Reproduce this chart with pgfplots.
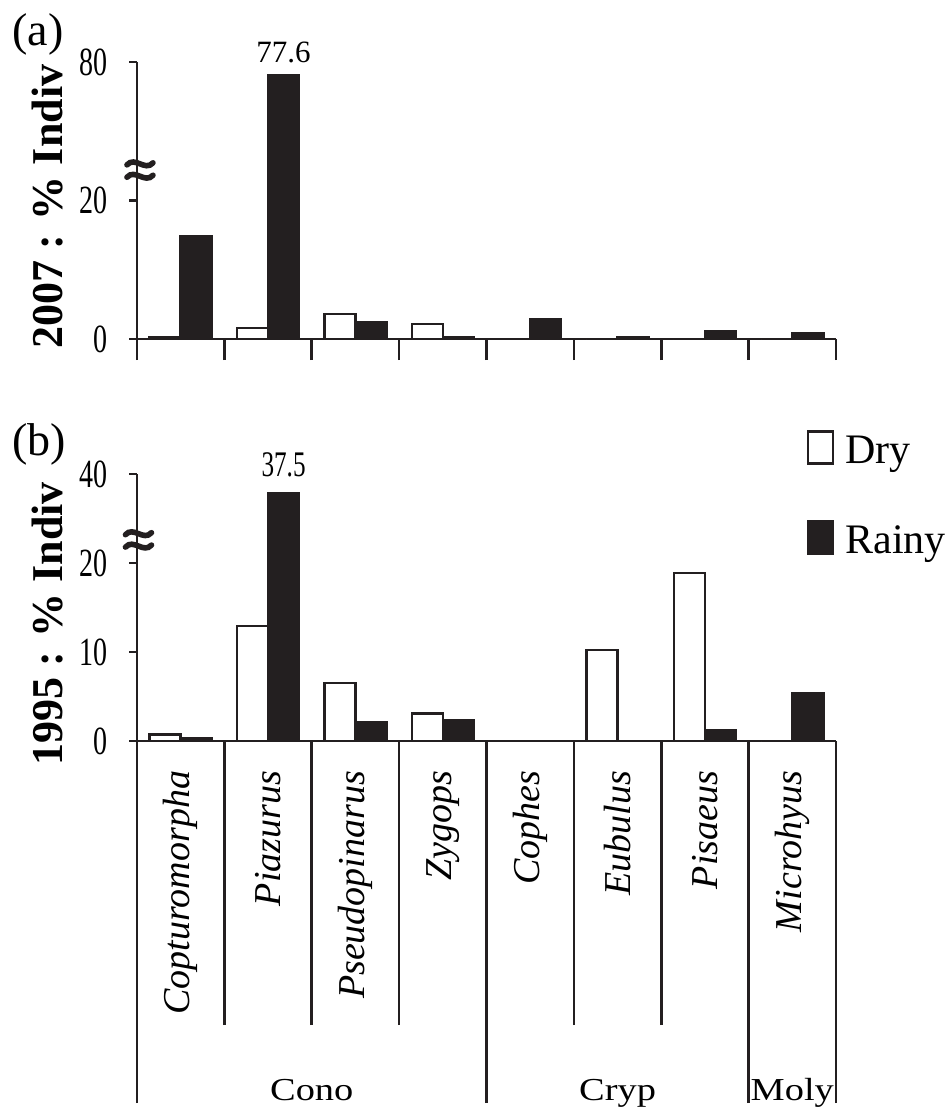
\documentclass[border=0pt]{standalone}
\usepackage{fontspec}
\setmainfont{Liberation Serif}
\newfontfamily\tickfont{Liberation Serif}[FakeStretch=0.7]
\newfontfamily\groupfont{Liberation Serif}[FakeStretch=1.2]
\usepackage{pgfplots}
\pgfplotsset{compat=1.18}
\definecolor{ink}{HTML}{231F20}
\newcommand{\breakmark}[2]{%
  \draw[line width=2.8pt, ink, line cap=round] ([xshift=-6.5pt,yshift=2.6pt]axis cs:#1,#2) .. controls +(4pt,4.5pt) and +(-4pt,-4.5pt) .. ([xshift=6.5pt,yshift=3.6pt]axis cs:#1,#2);
  \draw[line width=2.8pt, ink, line cap=round] ([xshift=-6.5pt,yshift=-3.6pt]axis cs:#1,#2) .. controls +(4pt,4.5pt) and +(-4pt,-4.5pt) .. ([xshift=6.5pt,yshift=-2.6pt]axis cs:#1,#2);
}
\begin{document}
\begin{tikzpicture}
\useasboundingbox (0,0) rectangle (473.5pt,-555pt);
\pgfplotsset{
  common/.style={
    scale only axis, width=349.5pt,
    xmin=0, xmax=8, ymin=0,
    enlargelimits=false,
    axis x line=bottom, axis y line=left,
    axis line style={-, line width=1.3pt, color=ink},
    tick align=outside,
    ytick style={line width=1.3pt, color=ink, /pgfplots/major tick length=4pt},
    yticklabel style={font=\tickfont\fontsize{20}{24}\selectfont, inner sep=0pt, xshift=-10.5pt},
    ybar, bar width=0.355,
    clip=false,
  },
  dry/.style={fill=white, draw=ink, line width=1.2pt, bar shift=-0.1775},
  rainy/.style={fill=ink, draw=ink, line width=1.2pt, bar shift=0.1775},
}
% ---------- (a) 2007 ----------
\begin{axis}[common, name=top, at={(68.5pt,-169.5pt)}, anchor=south west,
  height=138.5pt, ymax=40,
  xtick={0,1,2,3,4,5,6,7,8}, xticklabels={},
  xtick style={line width=1.3pt, color=ink, /pgfplots/major tick length=10.5pt},
  ytick={0,20,40}, yticklabels={0,20,80},
]
\addplot[dry] coordinates {(0.5,0.3) (1.5,1.6) (2.5,3.6) (3.5,2.2) (4.5,0) (5.5,0) (6.5,0) (7.5,0)};
\addplot[rainy] coordinates {(0.5,14.8) (1.5,38.1) (2.5,2.4) (3.5,0.3) (4.5,2.9) (5.5,0.2) (6.5,1.1) (7.5,0.8)};
\node[anchor=base, yshift=6.5pt, font=\fontsize{15.5}{18}\selectfont] at (axis cs:1.6775,38.1) {77.6};
\breakmark{0.034}{24.4}
\end{axis}
% ---------- (b) 1995 ----------
\begin{axis}[common, name=bot, at={(68.5pt,-370.5pt)}, anchor=south west,
  height=133.5pt, ymax=30,
  ytick={0,10,20,30}, yticklabels={0,10,20,40},
  xtick={0.5,1.5,2.5,3.5,4.5,5.5,6.5,7.5},
  xticklabels={Copturomorpha,Piazurus,Pseudopinarus,Zygops,Cophes,Eubulus,Pisaeus,Microhyus},
  xticklabel style={rotate=90, anchor=east, inner sep=0pt, font=\itshape\fontsize{19}{23}\selectfont},
  xticklabel shift=10.5pt,
  minor xtick={1,2,3,5,6},
  xtick style={line width=1.3pt, color=ink, /pgfplots/major tick length=0pt, /pgfplots/minor tick length=142pt},
  extra x ticks={0,4,7,8}, extra x tick labels={},
  extra x tick style={xtick style={/pgfplots/major tick length=181pt}},
  legend style={draw=none, fill=none, inner sep=0pt,
    at={(rel axis cs:0.958,1.165)}, anchor=north west,
    row sep=26.9pt, column sep=5.5pt,
    nodes={font=\fontsize{21}{25}\selectfont, inner sep=0pt, anchor=base west}},
]
\addplot[dry, legend image code/.code={\draw[fill=white, draw=ink, line width=1.2pt] (0pt,0pt) rectangle (12.5pt,16pt);}]
  coordinates {(0.5,0.75) (1.5,12.9) (2.5,6.5) (3.5,3.1) (4.5,0) (5.5,10.2) (6.5,18.9) (7.5,0)};
\addplot[rainy, legend image code/.code={\draw[fill=ink, draw=ink, line width=1.2pt] (0pt,0pt) rectangle (12.5pt,16pt);}]
  coordinates {(0.5,0.37) (1.5,27.9) (2.5,2.1) (3.5,2.3) (4.5,0) (5.5,0) (6.5,1.2) (7.5,5.4)};
\legend{Dry, Rainy}
\node[anchor=base, yshift=8pt, font=\tickfont\fontsize{18}{22}\selectfont] at (axis cs:1.6775,27.9) {37.5};
\breakmark{0.017}{22.6}
\node[anchor=base, yshift=-179.5pt, font=\groupfont\fontsize{16}{19}\selectfont] at (axis cs:2,0) {Cono};
\node[anchor=base, yshift=-179.5pt, font=\groupfont\fontsize{16}{19}\selectfont] at (axis cs:5.5,0) {Cryp};
\node[anchor=base, yshift=-179.5pt, font=\groupfont\fontsize{16}{19}\selectfont] at (axis cs:7.5,0) {Moly};
\end{axis}
% ---------- labels ----------
\node[rotate=90, anchor=base, inner sep=0pt, font=\bfseries\fontsize{22}{26}\selectfont] at (31pt,-103.25pt) {2007 : \% Indiv};
\node[rotate=90, anchor=base, inner sep=0pt, font=\bfseries\fontsize{22}{26}\selectfont] at (31pt,-312pt) {1995 : \% Indiv};
\node[anchor=base west, inner sep=0pt, font=\fontsize{23}{27}\selectfont] at (6pt,-22.5pt) {(a)};
\node[anchor=base west, inner sep=0pt, font=\fontsize{23}{27}\selectfont] at (6pt,-227.5pt) {(b)};
\end{tikzpicture}
\end{document}
